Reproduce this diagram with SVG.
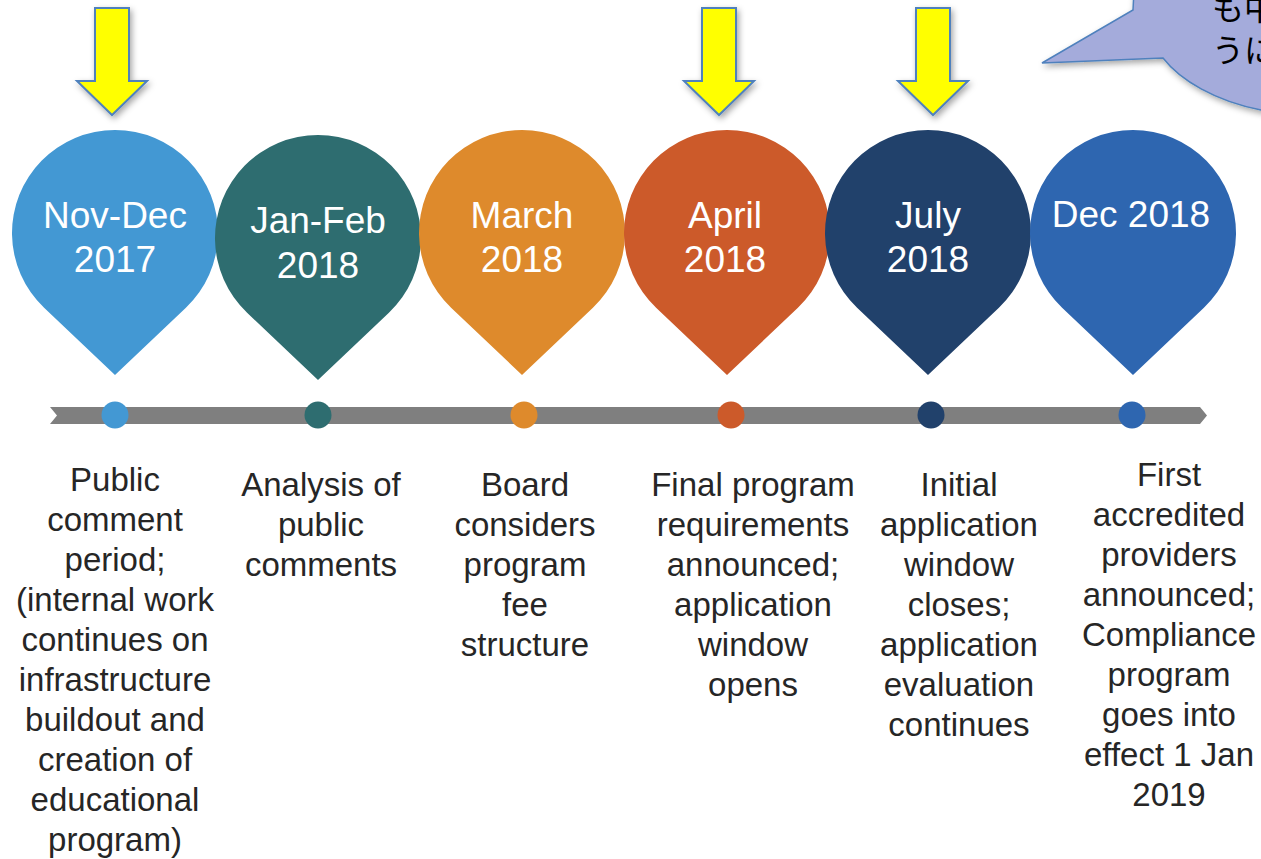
<svg xmlns="http://www.w3.org/2000/svg" width="1261" height="859" viewBox="0 0 1261 859">
  <defs>
    <filter id="shadow" x="-30%" y="-30%" width="160%" height="160%">
      <feDropShadow dx="2" dy="3" stdDeviation="3" flood-color="#000" flood-opacity="0.35"/>
    </filter>
  </defs>
  <style>
    .title { font-family: "Liberation Sans", Arial, sans-serif; font-size: 37px; fill: #ffffff; text-anchor: middle; }
    .desc { font-family: "Liberation Sans", Arial, sans-serif; font-size: 33px; fill: #262626; text-anchor: middle; }
    .arrow { fill: #FFFF00; stroke: #4F81BD; stroke-width: 2; filter: url(#shadow); }
    .callout { fill: #A4ABDB; stroke: #4F81BD; stroke-width: 1.5; filter: url(#shadow); }
    .cjk { font-family: "Liberation Sans", "Noto Sans CJK JP", sans-serif; font-size: 32px; fill: #000000; }
  </style>
  <rect width="1261" height="859" fill="#ffffff"/>

  <g id="callout">
    <path class="callout" d="M1134,-10 L1133,10 L1042,63 L1163,58 C1180,80 1215,101 1261,110 C1280,113 1300,112 1320,108 L1320,-10 Z"/>
    <text class="cjk" x="1212" y="20">も中</text>
    <text class="cjk" x="1212" y="62">うに</text>
  </g>

  <g id="arrows">
    <path id="arrow1" class="arrow" d="M95,8 H129 V81 H147 L112,115 L77,81 H95 Z"/>
    <path id="arrow2" class="arrow" d="M702,8 H736 V81 H754 L719,115 L684,81 H702 Z"/>
    <path id="arrow3" class="arrow" d="M916,8 H950 V81 H968 L933,115 L898,81 H916 Z"/>
  </g>

  <g id="connectors">
    <path d="M50,407 L1200,407 L1207,415.5 L1200,424 L50,424 L57,415.5 Z" fill="#7F7F7F"/>
  </g>

  <g id="node1">
    <path d="M115,375 L44.1,307.7 A103,103 0 1 1 185.9,307.7 Z" fill="#4398D3"/>
    <text class="title" x="115" y="228">Nov-Dec</text>
    <text class="title" x="115" y="272">2017</text>
    <circle cx="115" cy="415" r="13.5" fill="#4398D3"/>
    <text class="desc" x="115" y="491">Public</text>
    <text class="desc" x="115" y="531">comment</text>
    <text class="desc" x="115" y="571">period;</text>
    <text class="desc" x="115" y="611">(internal work</text>
    <text class="desc" x="115" y="651">continues on</text>
    <text class="desc" x="115" y="691">infrastructure</text>
    <text class="desc" x="115" y="731">buildout and</text>
    <text class="desc" x="115" y="771">creation of</text>
    <text class="desc" x="115" y="811">educational</text>
    <text class="desc" x="115" y="851">program)</text>
  </g>

  <g id="node2">
    <path d="M318,380 L247.1,312.7 A103,103 0 1 1 388.9,312.7 Z" fill="#2E6D70"/>
    <text class="title" x="318" y="233">Jan-Feb</text>
    <text class="title" x="318" y="278">2018</text>
    <circle cx="318" cy="415" r="13.5" fill="#2E6D70"/>
    <text class="desc" x="321" y="496">Analysis of</text>
    <text class="desc" x="321" y="536">public</text>
    <text class="desc" x="321" y="576">comments</text>
  </g>

  <g id="node3">
    <path d="M522,375 L451.1,307.7 A103,103 0 1 1 592.9,307.7 Z" fill="#DE8A2C"/>
    <text class="title" x="522" y="228">March</text>
    <text class="title" x="522" y="272">2018</text>
    <circle cx="524" cy="415" r="13.5" fill="#DE8A2C"/>
    <text class="desc" x="525" y="496">Board</text>
    <text class="desc" x="525" y="536">considers</text>
    <text class="desc" x="525" y="576">program</text>
    <text class="desc" x="525" y="616">fee</text>
    <text class="desc" x="525" y="656">structure</text>
  </g>

  <g id="node4">
    <path d="M727,375 L656.1,307.7 A103,103 0 1 1 797.9,307.7 Z" fill="#CC5A2A"/>
    <text class="title" x="725" y="228">April</text>
    <text class="title" x="725" y="272">2018</text>
    <circle cx="731" cy="415" r="13.5" fill="#CC5A2A"/>
    <text class="desc" x="753" y="496">Final program</text>
    <text class="desc" x="753" y="536">requirements</text>
    <text class="desc" x="753" y="576">announced;</text>
    <text class="desc" x="753" y="616">application</text>
    <text class="desc" x="753" y="656">window</text>
    <text class="desc" x="753" y="696">opens</text>
  </g>

  <g id="node5">
    <path d="M928,375 L857.1,307.7 A103,103 0 1 1 998.9,307.7 Z" fill="#21416B"/>
    <text class="title" x="928" y="228">July</text>
    <text class="title" x="928" y="272">2018</text>
    <circle cx="931" cy="415" r="13.5" fill="#21416B"/>
    <text class="desc" x="959" y="496">Initial</text>
    <text class="desc" x="959" y="536">application</text>
    <text class="desc" x="959" y="576">window</text>
    <text class="desc" x="959" y="616">closes;</text>
    <text class="desc" x="959" y="656">application</text>
    <text class="desc" x="959" y="696">evaluation</text>
    <text class="desc" x="959" y="736">continues</text>
  </g>

  <g id="node6">
    <path d="M1133,375 L1062.1,307.7 A103,103 0 1 1 1203.9,307.7 Z" fill="#2E66B0"/>
    <text class="title" x="1131" y="227">Dec 2018</text>
    <circle cx="1132" cy="415" r="13.5" fill="#2E66B0"/>
    <text class="desc" x="1169" y="486">First</text>
    <text class="desc" x="1169" y="526">accredited</text>
    <text class="desc" x="1169" y="566">providers</text>
    <text class="desc" x="1169" y="606">announced;</text>
    <text class="desc" x="1169" y="646">Compliance</text>
    <text class="desc" x="1169" y="686">program</text>
    <text class="desc" x="1169" y="726">goes into</text>
    <text class="desc" x="1169" y="766">effect 1 Jan</text>
    <text class="desc" x="1169" y="806">2019</text>
  </g>
</svg>
